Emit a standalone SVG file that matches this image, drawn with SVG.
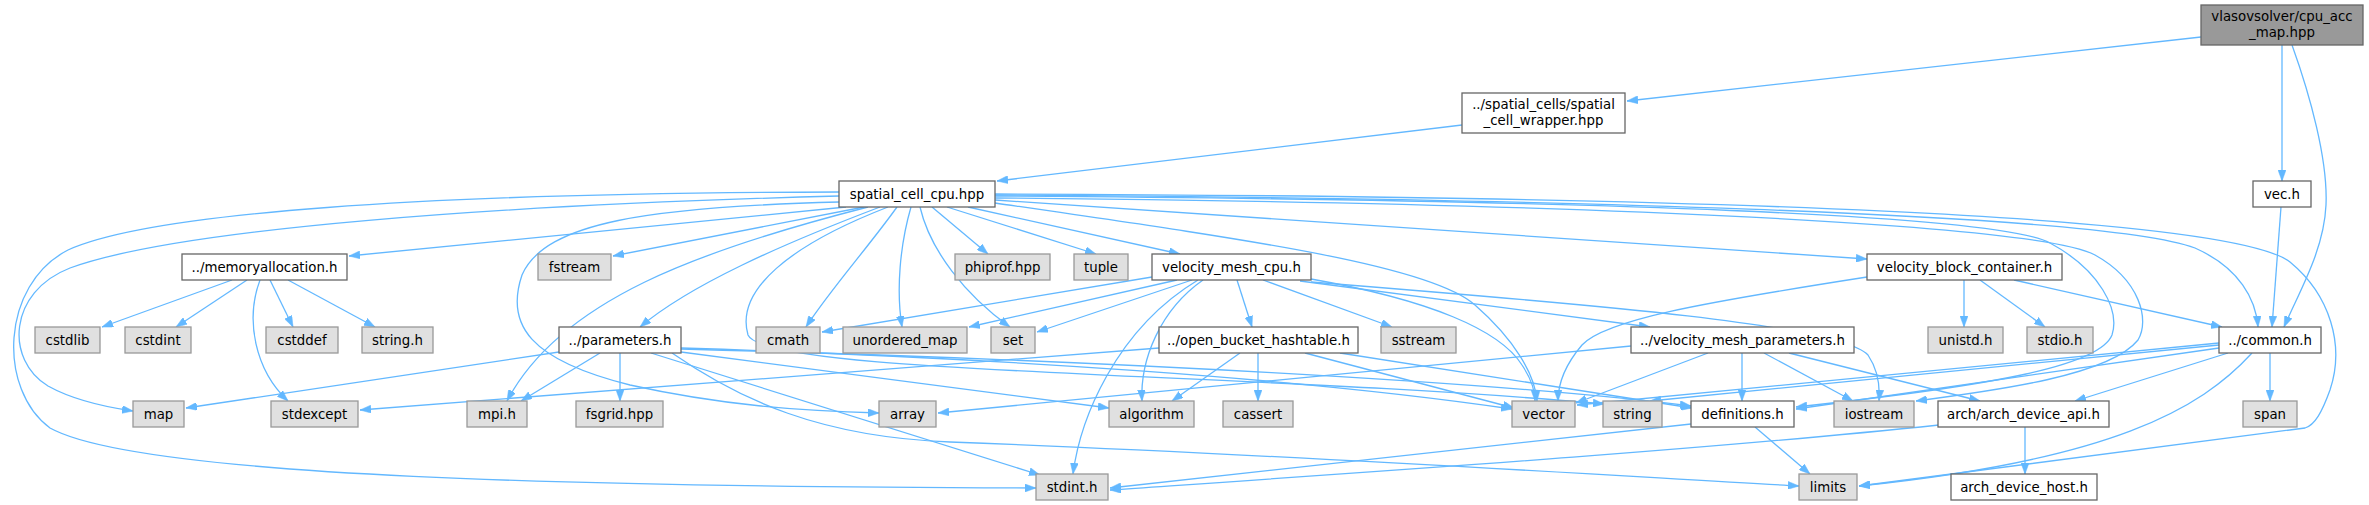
<svg xmlns="http://www.w3.org/2000/svg" width="2369" height="505" viewBox="0 0 2369 505">
<style>
.n rect{fill:#ffffff;stroke:#666666;stroke-width:1.3}
.l rect{fill:#e0e0e0;stroke:#999999;stroke-width:1.3}
.r rect{fill:#999999;stroke:#666666;stroke-width:1.3}
text{font-family:"DejaVu Sans","Liberation Sans",sans-serif;font-size:13.33px;fill:#000;text-anchor:middle}
#edges path{fill:none;stroke:#63b8ff;stroke-width:1.3;marker-end:url(#a)}
</style>
<defs>
<marker id="a" markerWidth="11" markerHeight="8" refX="11" refY="4" orient="auto" markerUnits="userSpaceOnUse">
<path d="M0,0 L11,4 L0,8 z" fill="#63b8ff" stroke="#63b8ff" stroke-width="0.5"/>
</marker>
</defs>
<rect x="0" y="0" width="2369" height="505" fill="#ffffff"/>
<g id="edges">
<path d="M2201,37 L1627,101"/>
<path d="M2282,45 L2282,181"/>
<path d="M2292,45 C2310,95 2328,160 2326,205 C2324,250 2300,290 2284,327"/>
<path d="M1462,125 L997,181"/>
<path d="M2281,207 L2272,327"/>
<path d="M846,207 L349,256"/>
<path d="M864,207 L613,256"/>
<path d="M880,207 C780,245 690,285 640,327"/>
<path d="M868,207 C700,250 560,300 507,401"/>
<path d="M839,196 C500,205 180,228 70,268 C8,292 5,360 48,386 C75,401 105,407 133,411"/>
<path d="M839,192 C420,193 150,213 68,250 C0,285 -2,390 50,428 C140,478 600,487 1036,488"/>
<path d="M839,202 C650,207 545,222 522,275 C505,325 530,360 630,385 C720,405 800,411 879,413"/>
<path d="M897,207 C870,245 830,290 806,327"/>
<path d="M911,207 C900,245 896,290 902,327"/>
<path d="M920,207 C930,250 965,295 1010,327"/>
<path d="M932,207 L988,254"/>
<path d="M947,207 L1096,254"/>
<path d="M968,207 L1180,254"/>
<path d="M995,203 C1250,240 1430,265 1475,305 C1515,340 1535,375 1537,401"/>
<path d="M995,200 L1867,259"/>
<path d="M995,195 C1500,198 2100,212 2195,248 C2240,268 2256,300 2258,327"/>
<path d="M995,196 C1600,200 2000,215 2050,243 C2100,270 2120,310 2112,335 C2100,365 2000,385 1796,407"/>
<path d="M995,198 C1600,203 2040,225 2095,255 C2140,280 2150,320 2138,340 C2110,375 2000,390 1916,401"/>
<path d="M995,194 C1700,196 2230,215 2290,262 C2330,295 2345,345 2330,390 C2322,412 2315,425 2305,428 L1859,486"/>
<path d="M888,207 C790,245 735,290 748,335 C765,375 1250,372 1604,404"/>
<path d="M1152,277 L822,332"/>
<path d="M1177,280 L969,327"/>
<path d="M1192,280 L1037,332"/>
<path d="M1203,280 C1160,310 1140,360 1142,401"/>
<path d="M1198,280 C1115,330 1080,420 1073,474"/>
<path d="M1237,280 L1252,327"/>
<path d="M1263,280 L1392,327"/>
<path d="M1311,279 C1430,300 1500,330 1522,365 C1532,380 1535,392 1535,401"/>
<path d="M1300,281 L1650,327"/>
<path d="M1311,282 C1600,305 1840,325 1868,355 C1878,370 1880,388 1879,401"/>
<path d="M1159,348 L360,410"/>
<path d="M1240,353 L1172,401"/>
<path d="M1258,353 L1258,401"/>
<path d="M1305,353 L1514,408"/>
<path d="M1340,353 L1692,408"/>
<path d="M1631,346 L938,413"/>
<path d="M1708,353 L1576,403"/>
<path d="M1742,353 L1742,401"/>
<path d="M1764,353 L1853,401"/>
<path d="M1789,353 L1980,401"/>
<path d="M1867,277 C1700,303 1605,320 1582,345 C1565,365 1558,385 1558,401"/>
<path d="M1964,280 L1964,327"/>
<path d="M1980,280 L2045,327"/>
<path d="M2014,280 L2222,327"/>
<path d="M2219,343 L1577,405"/>
<path d="M2219,345 L1650,401"/>
<path d="M2219,348 L1796,409"/>
<path d="M2228,353 L2075,401"/>
<path d="M2270,353 L2270,401"/>
<path d="M2252,353 C2200,410 2110,460 1859,486"/>
<path d="M1691,424 L1110,488"/>
<path d="M1755,427 L1810,474"/>
<path d="M2025,427 L2025,474"/>
<path d="M1939,425 C1700,450 1400,470 1110,490"/>
<path d="M559,352 L186,408"/>
<path d="M600,353 L521,401"/>
<path d="M620,353 L620,401"/>
<path d="M651,353 L1040,475"/>
<path d="M681,352 L1109,408"/>
<path d="M681,348 C1000,358 1300,378 1512,409"/>
<path d="M681,349 C1100,360 1500,382 1691,406"/>
<path d="M672,353 C740,400 820,437 950,442 C1300,455 1650,478 1799,486"/>
<path d="M232,280 L102,327"/>
<path d="M247,280 L176,327"/>
<path d="M260,280 C245,320 255,370 288,401"/>
<path d="M270,280 L293,327"/>
<path d="M288,280 L375,327"/>
</g>
<g id="root" class="r"><rect x="2201" y="5" width="162" height="40"/><text x="2282" y="21">vlasovsolver/cpu_acc</text><text x="2282" y="37">_map.hpp</text></g>
<g id="wrapper" class="n"><rect x="1462" y="93" width="163" height="40"/><text x="1543.5" y="109">../spatial_cells/spatial</text><text x="1543.5" y="125">_cell_wrapper.hpp</text></g>
<g id="spatial_cell_cpu" class="n"><rect x="839" y="181" width="156" height="26"/><text x="917" y="199">spatial_cell_cpu.hpp</text></g>
<g id="vec" class="n"><rect x="2253" y="181" width="58" height="26"/><text x="2282" y="199">vec.h</text></g>
<g id="memoryallocation" class="n"><rect x="182" y="254" width="165" height="26"/><text x="264.5" y="272">../memoryallocation.h</text></g>
<g id="fstream" class="l"><rect x="538" y="254" width="73" height="26"/><text x="574.5" y="272">fstream</text></g>
<g id="phiprof" class="l"><rect x="955" y="254" width="95" height="26"/><text x="1002.5" y="272">phiprof.hpp</text></g>
<g id="tuple" class="l"><rect x="1074" y="254" width="54" height="26"/><text x="1101" y="272">tuple</text></g>
<g id="velocity_mesh_cpu" class="n"><rect x="1152" y="254" width="159" height="26"/><text x="1231.5" y="272">velocity_mesh_cpu.h</text></g>
<g id="velocity_block_container" class="n"><rect x="1867" y="254" width="195" height="26"/><text x="1964.5" y="272">velocity_block_container.h</text></g>
<g id="cstdlib" class="l"><rect x="35" y="327" width="65" height="26"/><text x="67.5" y="345">cstdlib</text></g>
<g id="cstdint" class="l"><rect x="125" y="327" width="66" height="26"/><text x="158" y="345">cstdint</text></g>
<g id="cstddef" class="l"><rect x="266" y="327" width="72" height="26"/><text x="302" y="345">cstddef</text></g>
<g id="string_h" class="l"><rect x="362" y="327" width="71" height="26"/><text x="397.5" y="345">string.h</text></g>
<g id="parameters" class="n"><rect x="559" y="327" width="122" height="26"/><text x="620" y="345">../parameters.h</text></g>
<g id="cmath" class="l"><rect x="756" y="327" width="64" height="26"/><text x="788" y="345">cmath</text></g>
<g id="unordered_map" class="l"><rect x="843" y="327" width="124" height="26"/><text x="905" y="345">unordered_map</text></g>
<g id="set" class="l"><rect x="991" y="327" width="44" height="26"/><text x="1013" y="345">set</text></g>
<g id="open_bucket_hashtable" class="n"><rect x="1159" y="327" width="199" height="26"/><text x="1258.5" y="345">../open_bucket_hashtable.h</text></g>
<g id="sstream" class="l"><rect x="1381" y="327" width="75" height="26"/><text x="1418.5" y="345">sstream</text></g>
<g id="velocity_mesh_parameters" class="n"><rect x="1631" y="327" width="223" height="26"/><text x="1742.5" y="345">../velocity_mesh_parameters.h</text></g>
<g id="unistd" class="l"><rect x="1928" y="327" width="75" height="26"/><text x="1965.5" y="345">unistd.h</text></g>
<g id="stdio" class="l"><rect x="2027" y="327" width="66" height="26"/><text x="2060" y="345">stdio.h</text></g>
<g id="common" class="n"><rect x="2219" y="327" width="102" height="26"/><text x="2270" y="345">../common.h</text></g>
<g id="map" class="l"><rect x="133" y="401" width="51" height="26"/><text x="158.5" y="419">map</text></g>
<g id="stdexcept" class="l"><rect x="271" y="401" width="87" height="26"/><text x="314.5" y="419">stdexcept</text></g>
<g id="mpi" class="l"><rect x="467" y="401" width="60" height="26"/><text x="497" y="419">mpi.h</text></g>
<g id="fsgrid" class="l"><rect x="576" y="401" width="87" height="26"/><text x="619.5" y="419">fsgrid.hpp</text></g>
<g id="array" class="l"><rect x="879" y="401" width="57" height="26"/><text x="907.5" y="419">array</text></g>
<g id="algorithm" class="l"><rect x="1109" y="401" width="85" height="26"/><text x="1151.5" y="419">algorithm</text></g>
<g id="cassert" class="l"><rect x="1223" y="401" width="70" height="26"/><text x="1258" y="419">cassert</text></g>
<g id="vector" class="l"><rect x="1512" y="401" width="63" height="26"/><text x="1543.5" y="419">vector</text></g>
<g id="string" class="l"><rect x="1603" y="401" width="59" height="26"/><text x="1632.5" y="419">string</text></g>
<g id="definitions" class="n"><rect x="1691" y="401" width="103" height="26"/><text x="1742.5" y="419">definitions.h</text></g>
<g id="iostream" class="l"><rect x="1834" y="401" width="80" height="26"/><text x="1874" y="419">iostream</text></g>
<g id="arch_device_api" class="n"><rect x="1938" y="401" width="171" height="26"/><text x="2023.5" y="419">arch/arch_device_api.h</text></g>
<g id="span" class="l"><rect x="2243" y="401" width="54" height="26"/><text x="2270" y="419">span</text></g>
<g id="stdint" class="l"><rect x="1036" y="474" width="72" height="26"/><text x="1072" y="492">stdint.h</text></g>
<g id="limits" class="l"><rect x="1799" y="474" width="58" height="26"/><text x="1828" y="492">limits</text></g>
<g id="arch_device_host" class="n"><rect x="1951" y="474" width="146" height="26"/><text x="2024" y="492">arch_device_host.h</text></g>
</svg>
